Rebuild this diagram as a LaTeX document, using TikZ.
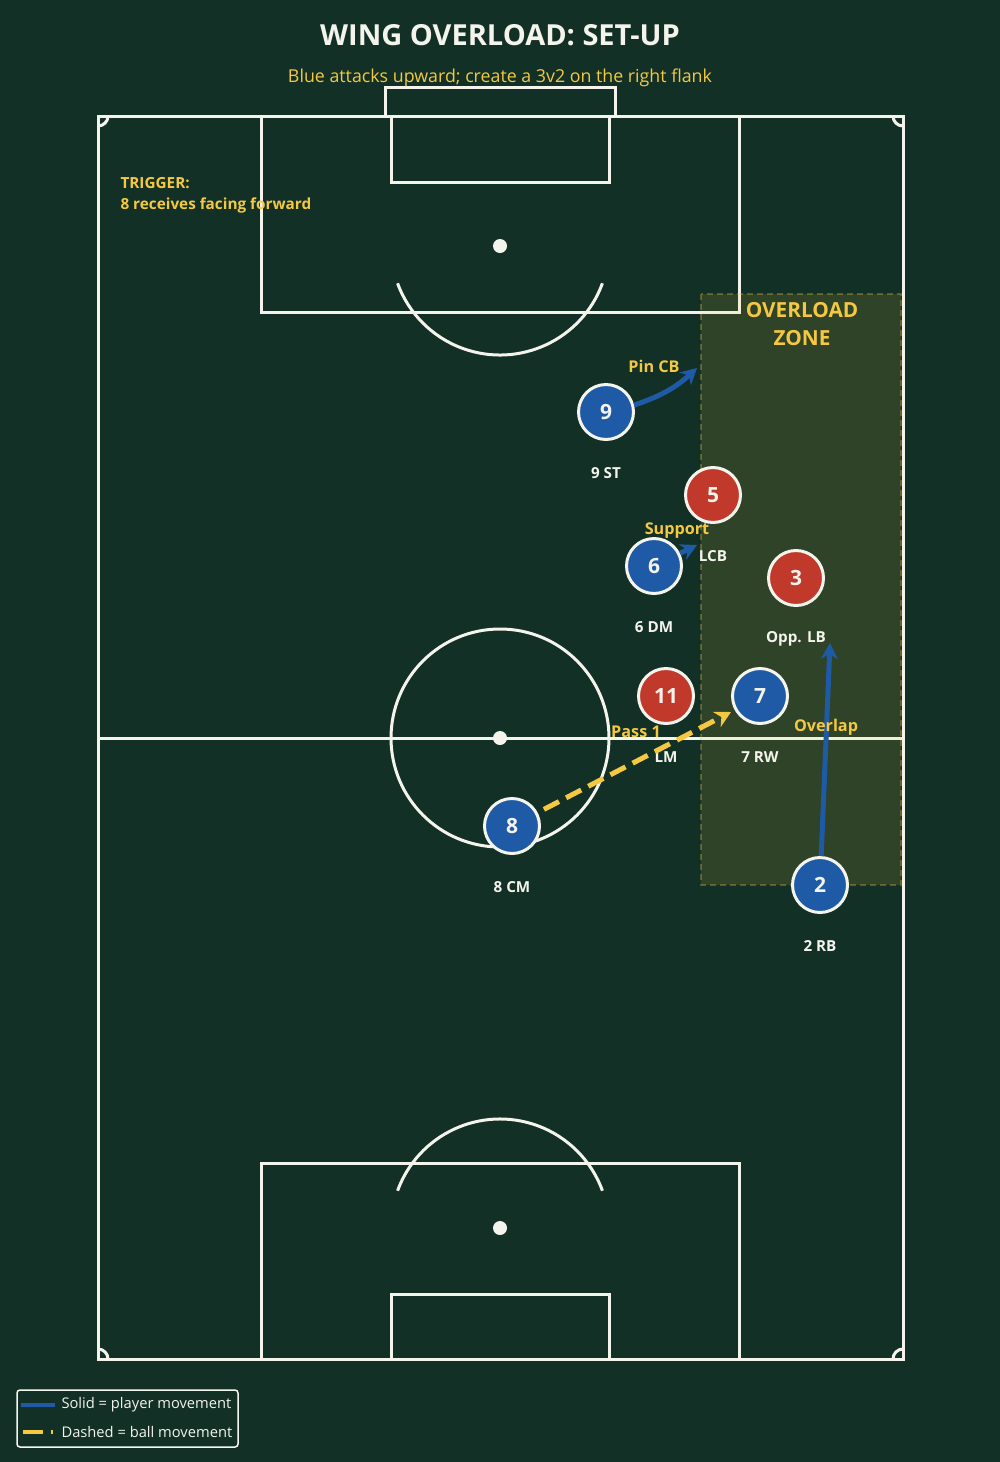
\documentclass[tikz,border=0pt]{standalone}
\usepackage{fontspec}
\setmainfont{Open Sans}
\usepackage{tikz}
\usetikzlibrary{positioning}
\usetikzlibrary{arrows.meta}
\usepackage{xcolor}
\definecolor{turf}{HTML}{123026}
\definecolor{chalk}{HTML}{F4F4EC}
\definecolor{homeblue}{HTML}{1F5AA6}
\definecolor{awayred}{HTML}{C0392B}
\definecolor{cue}{HTML}{F5C842}

\begin{document}
\begin{tikzpicture}[x=1pt, y=-1pt,
  pitchline/.style = {draw=chalk, line width=3pt},
  attacker/.style = {circle, draw=chalk, line width=3pt, fill=homeblue,
    minimum size=55pt, inner sep=0pt, text=chalk,
    font=\fontsize{21}{21}\selectfont\bfseries},
  defender/.style = {attacker, fill=awayred},
  role/.style = {text=chalk, font=\fontsize{15.2}{15.2}\selectfont\bfseries},
  note/.style = {text=cue, font=\fontsize{16.2}{21}\selectfont\bfseries},
  run/.style = {draw=homeblue, line width=5pt, -{Stealth[length=16pt,width=17pt]}},
  pass/.style = {draw=cue, line width=5pt, dash pattern=on 17pt off 8pt,
    -{Stealth[length=16pt,width=17pt]}}
  ]
  \fill[turf] (0,0) rectangle (1000,1462);
  \useasboundingbox (0,0) rectangle (1000,1462);

  % pitch
  \draw[pitchline] (98,116) rectangle (903,1359);
  \draw[pitchline] (98,738) -- (903,738);
  \draw[pitchline] (500,738) circle (109);
  \fill[chalk] (500,738) circle (7);
  \draw[pitchline] (261,116) rectangle (739,312);
  \draw[pitchline] (391,116) rectangle (609,182);
  \draw[pitchline] (385,116) rectangle (615,87);
  \fill[chalk] (500,246) circle (7);
  \draw[pitchline] (500,246) ++(20:109) arc[start angle=20, end angle=160, radius=109];
  \draw[pitchline] (261,1359) rectangle (739,1163);
  \draw[pitchline] (391,1359) rectangle (609,1294);
  \fill[chalk] (500,1228) circle (7);
  \draw[pitchline] (500,1228) ++(200:109) arc[start angle=200, end angle=340, radius=109];
  \draw[pitchline] (98,116) ++(0:10) arc[start angle=0, end angle=90, radius=10];
  \draw[pitchline] (903,116) ++(90:10) arc[start angle=90, end angle=180, radius=10];
  \draw[pitchline] (903,1359) ++(180:10) arc[start angle=180, end angle=270, radius=10];
  \draw[pitchline] (98,1359) ++(270:10) arc[start angle=270, end angle=360, radius=10];

  % overload zone
  \fill[cue, opacity=0.13] (701,294) rectangle (901,885);
  \draw[cue, draw opacity=0.3, line width=1.5pt, dash pattern=on 6pt off 4pt]
    (701,294) rectangle (901,885);
  \node[note, align=center, font=\fontsize{20.8}{28}\selectfont\bfseries] (zone)
    at (802,324) {OVERLOAD\\ZONE};

  % titles
  \node[text=chalk, font=\fontsize{29}{29}\selectfont\bfseries] (title)
    at (500,35) {WING OVERLOAD: SET-UP};
  \node[text=cue, font=\fontsize{17.8}{17.8}\selectfont] (subtitle)
    at (500,78) {Blue attacks upward; create a 3v2 on the right flank};
  \node[note, align=left, anchor=west, font=\fontsize{15.3}{21}\selectfont\bfseries]
    (trigger) at (117,195) {TRIGGER:\\8 receives facing forward};

  % players
  \node[attacker] (p9) at (606,412) {9};
  \node[attacker] (p6) at (654,566) {6};
  \node[attacker] (p8) at (512,826) {8};
  \node[attacker] (p7) at (760,696) {7};
  \node[attacker] (p2) at (820,885) {2};
  \node[defender] (d5) at (713,495) {5};
  \node[defender] (d3) at (796,578) {3};
  \node[defender] (d11) at (666,696) {11};

  \node[role] (r9) at ([yshift=-61pt]p9.center) {9 ST};
  \node[role] (r6) at ([yshift=-61pt]p6.center) {6 DM};
  \node[role] (r8) at ([yshift=-61pt]p8.center) {8 CM};
  \node[role] (r7) at ([yshift=-61pt]p7.center) {7 RW};
  \node[role] (r2) at ([yshift=-61pt]p2.center) {2 RB};
  \node[role] (r5) at ([yshift=-61pt]d5.center) {LCB};
  \node[role] (r3) at ([yshift=-61pt]d3.center) {Opp. LB};
  \node[role] (r11) at ([yshift=-61pt]d11.center) {LM};

  % movement
  \coordinate (pin) at (697,368);
  \coordinate (sup) at (697,545);
  \coordinate (ovl) at (830,643);
  \coordinate (ball) at (731,712);
  \draw[run] (p9) to[bend right=12] (pin);
  \draw[run] (p6) -- (sup);
  \draw[run] (p2) -- (ovl);
  \draw[pass, shorten <=7pt] (p8) -- (ball);
  \node[note] (tPin) at (654,366) {Pin CB};
  \node[note] (tSup) at (677,531) {Support};
  \node[note] (tPass) at (636,732) {Pass 1};
  \node[note] (tOvl) at (826,727) {Overlap};

  % legend
  \draw[draw=chalk!80, fill=turf, line width=1.5pt, rounded corners=3pt]
    (17,1390) rectangle (238,1447);
  \draw[homeblue, line width=4pt] (21,1405) -- (55,1405);
  \draw[cue, line width=4pt, dash pattern=on 20pt off 8pt] (23,1432) -- (53,1432);
  \node[text=chalk, anchor=west, font=\fontsize{14.7}{14.7}\selectfont] (kSolid)
    at (58,1405) {Solid = player movement};
  \node[text=chalk, anchor=west, font=\fontsize{14.7}{14.7}\selectfont] (kDash)
    at (58,1432) {Dashed = ball movement};
\end{tikzpicture}
\end{document}
